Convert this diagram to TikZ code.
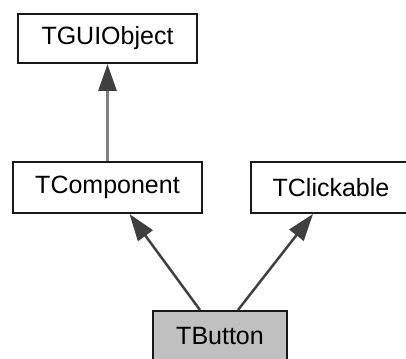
\documentclass[tikz,border=0pt]{standalone}
\usepackage{fontspec}
\setmainfont{Liberation Sans}
\usetikzlibrary{arrows.meta}
\definecolor{edgegray}{HTML}{404040}
\definecolor{linkgray}{HTML}{808080}
\definecolor{selfill}{HTML}{C0C0C0}
\tikzset{
  classbox/.style={draw=black!90, line width=2pt, fill=white, rectangle,
    inner sep=0pt, font=\fontsize{25}{30}\selectfont},
  inherit/.style={line width=2.5pt, draw=edgegray,
    -{Triangle[length=27pt,width=18pt,color=edgegray]}},
}
\begin{document}
\begin{tikzpicture}[x=1pt,y=-1pt]
  \useasboundingbox (0,0) rectangle (406,358);
  \node[classbox, minimum width=179pt, minimum height=49pt] (gui) at (107.5,38.5) {TGUIObject};
  \node[classbox, minimum width=189pt, minimum height=51pt] (comp) at (107.5,187.5) {TComponent};
  \node[classbox, minimum width=160pt, minimum height=51pt] (click) at (331,187.5) {TClickable};
  \node[classbox, fill=selfill, minimum width=134pt, minimum height=50pt] (btn) at (220,336) {TButton};
  % inheritance arrows
  \draw[inherit, draw=linkgray, line width=3pt] (comp.north) -- (gui.south);
  \draw[inherit] ([xshift=-20pt]btn.north) -- ([xshift=22pt]comp.south);
  \draw[inherit] ([xshift=18pt]btn.north) -- ([xshift=-18pt]click.south);
\end{tikzpicture}
\end{document}
